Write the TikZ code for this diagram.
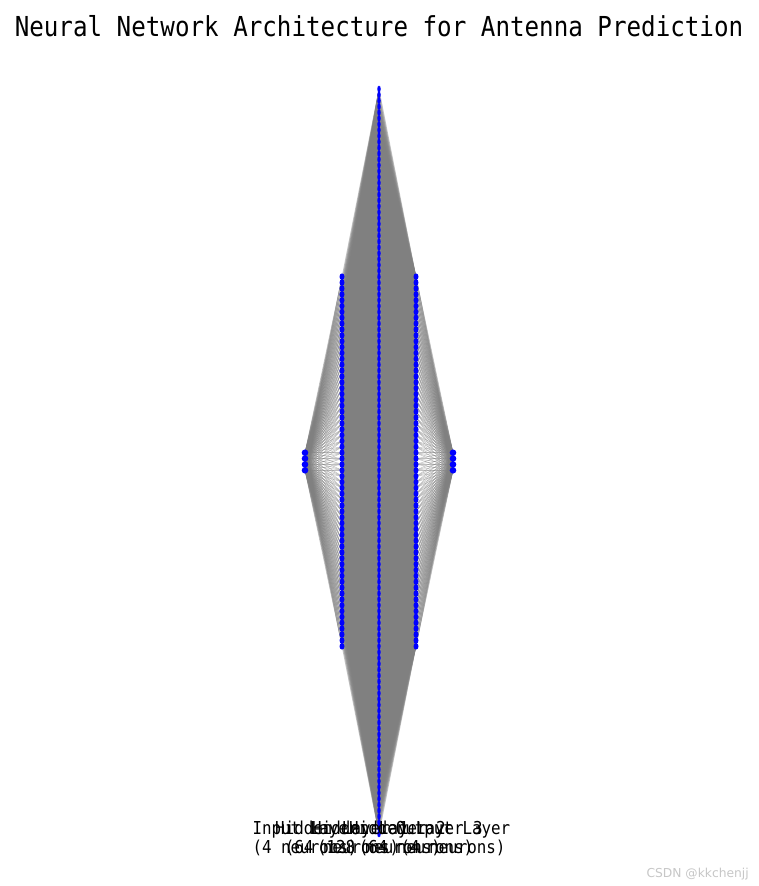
\documentclass[tikz,border=0pt]{standalone}
\usepackage{fontspec}
\usetikzlibrary{shapes.geometric}
\newfontfamily\titlefont[FakeStretch=0.88]{DejaVu Sans Mono}
\newfontfamily\labfont[FakeStretch=0.89]{DejaVu Sans Mono}
\newfontfamily\wmfont{DejaVu Sans}
\begin{document}
\begin{tikzpicture}[x=1pt,y=-1pt,
  neuron/.style={circle,fill=blue,draw=none,inner sep=0pt,minimum size=6.6pt},
  hidneuron/.style={ellipse,fill=blue,draw=none,inner sep=0pt,minimum width=5pt,minimum height=6.6pt},
  midneuron/.style={ellipse,fill=blue,draw=none,inner sep=0pt,minimum width=3.5pt,minimum height=6.6pt},
  edge/.style={draw=gray,line width=0.5pt,draw opacity=0.5},
  titletext/.style={anchor=base,inner sep=0pt,font=\titlefont\fontsize{27.5}{30}\selectfont},
  labtext/.style={anchor=base,inner sep=0pt,font=\labfont\fontsize{17.8}{20}\selectfont},
  wmtext/.style={anchor=base east,inner sep=0pt,text=black!22,font=\wmfont\fontsize{12.3}{13}\selectfont}]
\fill[white] (0,0) rectangle (758,886);
\useasboundingbox (0,0) rectangle (758,886);
\node[titletext] (title) at (379,36) {Neural Network Architecture for Antenna Prediction};
% neuron positions
\foreach \j in {0,...,3}{\coordinate (L0-\j) at (305,{461.5+(\j-1.5)*5.866});}
\foreach \j in {0,...,63}{\coordinate (L1-\j) at (342,{461.5+(\j-31.5)*5.866});}
\foreach \j in {0,...,127}{\coordinate (L2-\j) at (379,{461.5+(\j-63.5)*5.866});}
\foreach \j in {0,...,63}{\coordinate (L3-\j) at (416,{461.5+(\j-31.5)*5.866});}
\foreach \j in {0,...,3}{\coordinate (L4-\j) at (453,{461.5+(\j-1.5)*5.866});}
% connections
\foreach \i in {0,...,3}{\foreach \j in {0,...,63}{\draw[edge] (L0-\i) -- (L1-\j);}}
\foreach \i in {0,...,63}{\draw[edge] \foreach \j in {0,...,127}{(L1-\i) -- (L2-\j)};}
\foreach \i in {0,...,127}{\draw[edge] \foreach \j in {0,...,63}{(L2-\i) -- (L3-\j)};}
\foreach \i in {0,...,63}{\foreach \j in {0,...,3}{\draw[edge] (L3-\i) -- (L4-\j);}}
% neurons
\foreach \j in {0,...,3}{\node[neuron] (N0-\j) at (L0-\j) {};}
\foreach \j in {0,...,63}{\node[hidneuron] (N1-\j) at (L1-\j) {};}
\foreach \j in {0,...,127}{\node[midneuron] (N2-\j) at (L2-\j) {};}
\foreach \j in {0,...,63}{\node[hidneuron] (N3-\j) at (L3-\j) {};}
\foreach \j in {0,...,3}{\node[neuron] (N4-\j) at (L4-\j) {};}
% labels
\node[labtext] (lab0a) at (305,834) {Input Layer};
\node[labtext] (lab0b) at (305,853) {(4 neurons)};
\node[labtext] (lab1a) at (342,834) {Hidden Layer 1};
\node[labtext] (lab1b) at (342,853) {(64 neurons)};
\node[labtext] (lab2a) at (379,834) {Hidden Layer 2};
\node[labtext] (lab2b) at (379,853) {(128 neurons)};
\node[labtext] (lab3a) at (416,834) {Hidden Layer 3};
\node[labtext] (lab3b) at (416,853) {(64 neurons)};
\node[labtext] (lab4a) at (453,834) {Output Layer};
\node[labtext] (lab4b) at (453,853) {(4 neurons)};
\node[wmtext] (wm) at (749,877) {CSDN @kkchenjj};
\end{tikzpicture}
\end{document}
